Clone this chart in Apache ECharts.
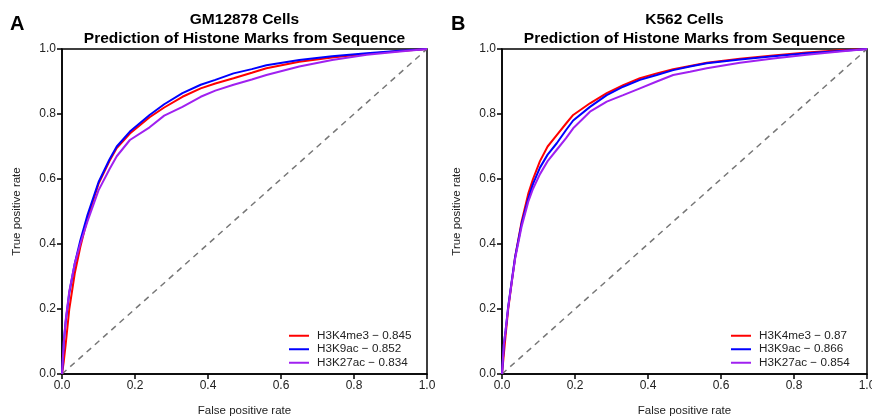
<!DOCTYPE html>
<html>
<head>
<meta charset="utf-8">
<script src="https://cdn.jsdelivr.net/npm/echarts@6/dist/echarts.min.js"></script>
<style>html,body{margin:0;padding:0;background:#fff}#c{width:872px;height:420px}</style>
</head>
<body>
<div id="c"></div>
<script>
// ---- Data (FPR, TPR pairs) ----
const panelTitles = ['GM12878 Cells', 'K562 Cells'];
const subtitle = 'Prediction of Histone Marks from Sequence';
const panelLetters = ['A', 'B'];
const markNames = ['H3K4me3', 'H3K9ac', 'H3K27ac'];
const aucA = ['0.845', '0.852', '0.834'];
const aucB = ['0.87', '0.866', '0.854'];
const tickValues = [0, 0.2, 0.4, 0.6, 0.8, 1.0];
const chanceLine = [[0, 0], [1, 1]];

const rocA_H3K4me3 = [[0,0],[0.005,0.04],[0.01,0.09],[0.02,0.2],[0.035,0.31],[0.05,0.39],[0.07,0.48],[0.1,0.585],[0.13,0.655],[0.15,0.695],[0.186,0.74],[0.24,0.79],[0.28,0.82],[0.33,0.853],[0.38,0.879],[0.42,0.894],[0.47,0.91],[0.52,0.927],[0.56,0.941],[0.65,0.961],[0.74,0.974],[0.835,0.985],[0.926,0.994],[1,1]];
const rocA_H3K9ac = [[0,0],[0.005,0.10],[0.01,0.16],[0.02,0.25],[0.035,0.34],[0.05,0.41],[0.07,0.49],[0.1,0.59],[0.13,0.66],[0.15,0.70],[0.186,0.746],[0.24,0.797],[0.28,0.83],[0.33,0.864],[0.38,0.89],[0.42,0.905],[0.47,0.925],[0.52,0.938],[0.56,0.95],[0.65,0.966],[0.74,0.978],[0.835,0.987],[0.926,0.995],[1,1]];
const rocA_H3K27ac = [[0,0],[0.005,0.10],[0.01,0.165],[0.02,0.255],[0.035,0.34],[0.05,0.40],[0.07,0.47],[0.1,0.565],[0.13,0.63],[0.15,0.67],[0.186,0.72],[0.24,0.759],[0.28,0.795],[0.33,0.822],[0.38,0.853],[0.42,0.872],[0.47,0.89],[0.52,0.906],[0.56,0.92],[0.65,0.946],[0.74,0.966],[0.835,0.982],[0.926,0.992],[1,1]];

const rocB_H3K4me3 = [[0,0],[0.005,0.06],[0.01,0.12],[0.017,0.2],[0.027,0.285],[0.036,0.36],[0.054,0.47],[0.072,0.555],[0.085,0.60],[0.104,0.655],[0.125,0.70],[0.15,0.735],[0.175,0.77],[0.195,0.797],[0.241,0.833],[0.287,0.864],[0.332,0.889],[0.378,0.91],[0.424,0.925],[0.469,0.938],[0.515,0.948],[0.561,0.958],[0.652,0.970],[0.743,0.98],[0.835,0.989],[0.926,0.996],[1,1]];
const rocB_H3K9ac = [[0,0],[0.005,0.09],[0.01,0.135],[0.017,0.207],[0.027,0.289],[0.036,0.36],[0.054,0.464],[0.072,0.54],[0.085,0.585],[0.104,0.635],[0.125,0.675],[0.15,0.71],[0.175,0.75],[0.195,0.78],[0.241,0.822],[0.287,0.858],[0.332,0.884],[0.378,0.905],[0.424,0.92],[0.469,0.935],[0.515,0.946],[0.561,0.956],[0.652,0.968],[0.743,0.978],[0.835,0.987],[0.926,0.994],[1,1]];
const rocB_H3K27ac = [[0,0],[0.005,0.09],[0.01,0.135],[0.017,0.205],[0.027,0.285],[0.036,0.355],[0.054,0.455],[0.072,0.53],[0.085,0.57],[0.104,0.615],[0.125,0.655],[0.15,0.69],[0.175,0.725],[0.195,0.756],[0.241,0.807],[0.287,0.838],[0.332,0.858],[0.378,0.879],[0.424,0.90],[0.469,0.92],[0.515,0.93],[0.561,0.941],[0.652,0.958],[0.743,0.971],[0.835,0.982],[0.926,0.992],[1,1]];

const colors = ['#FF0000', '#0000FF', '#A020F0'];
const FONT = '"Liberation Sans", Arial, Helvetica, sans-serif';

const panels = [
  { rocs: [rocA_H3K4me3, rocA_H3K9ac, rocA_H3K27ac], auc: aucA, left: 62, right: 445, legendLeft: 289, letterLeft: 10 },
  { rocs: [rocB_H3K4me3, rocB_H3K9ac, rocB_H3K27ac], auc: aucB, left: 502, right: 5, legendLeft: 731, letterLeft: 451 }
];

const chart = echarts.init(document.getElementById('c'), null, { renderer: 'canvas' });

const grid = [], xAxis = [], yAxis = [], series = [], legend = [], title = [];
const labelFmt = v => v.toFixed(1);

panels.forEach((p, i) => {
  grid.push({ left: p.left, right: p.right, top: 49, bottom: 46, show: true, borderColor: '#000', borderWidth: 1.5,
    backgroundColor: 'transparent', containLabel: false, outerBoundsMode: 'none' });
  const axisCommon = {
    type: 'value', min: 0, max: 1, interval: 0.2, gridIndex: i,
    axisLine: { show: true, onZero: false, lineStyle: { color: '#000', width: 1.5 } },
    axisTick: { show: true, inside: false, length: 5, lineStyle: { color: '#000', width: 1.5 } },
    splitLine: { show: false },
    axisLabel: { color: '#222', fontSize: 12, fontFamily: FONT, formatter: labelFmt, margin: 6 },
    nameLocation: 'middle',
    nameTextStyle: { color: '#222', fontSize: 11.5, fontFamily: FONT }
  };
  xAxis.push(Object.assign({}, axisCommon, { name: 'False positive rate', nameGap: 31 }));
  yAxis.push(Object.assign({}, axisCommon, { name: 'True positive rate', nameGap: 39 }));

  series.push({
    type: 'line', xAxisIndex: i, yAxisIndex: i, data: chanceLine, symbol: 'none', silent: true,
    lineStyle: { color: '#777777', width: 1.5, type: [6, 5] }, z: 1
  });
  const names = [];
  p.rocs.forEach((d, k) => {
    const nm = markNames[k] + ' \u2212 ' + p.auc[k];
    names.push(nm);
    series.push({
      name: nm, type: 'line', xAxisIndex: i, yAxisIndex: i, data: d, symbol: 'none',
      color: colors[k], lineStyle: { color: colors[k], width: 2 }, z: 2 + k, animation: false
    });
  });
  legend.push({
    data: names, orient: 'vertical', left: p.legendLeft, top: 329, itemGap: 0, padding: 0,
    itemWidth: 20, itemHeight: 2, icon: 'rect', selectedMode: false,
    textStyle: { color: '#222', fontSize: 11.7, fontFamily: FONT, lineHeight: 13.5, padding: [0, 0, 0, 3] }
  });
  const cx = (p.left + (872 - p.right)) / 2;
  title.push({
    text: panelTitles[i] + '\n' + subtitle, left: cx, top: 10, textAlign: 'center', padding: 0,
    textStyle: { color: '#000', fontSize: 15.5, fontWeight: 'bold', fontFamily: FONT, lineHeight: 19 }
  });
  title.push({
    text: panelLetters[i], left: p.letterLeft, top: 14, padding: 0,
    textStyle: { color: '#000', fontSize: 20, fontWeight: 'bold', fontFamily: FONT }
  });
});

chart.setOption({ animation: false, backgroundColor: '#fff', title, grid, xAxis, yAxis, series, legend });
</script>
</body>
</html>
